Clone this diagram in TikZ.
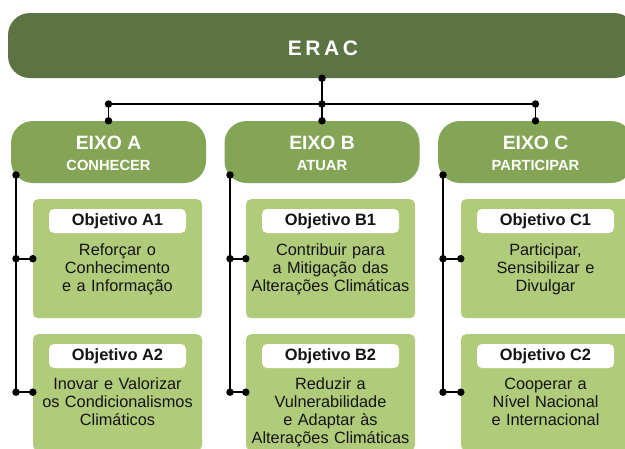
\documentclass[tikz,border=0pt]{standalone}
\usepackage{fontspec}
\setmainfont{Liberation Sans}
\definecolor{ercol}{RGB}{92,115,68}
\definecolor{eixocol}{RGB}{131,165,85}
\definecolor{objcol}{RGB}{176,203,122}
\definecolor{txt}{RGB}{20,20,20}
\begin{document}
\begin{tikzpicture}[x=1pt,y=-1pt,
  conn/.style={line width=1.9pt, black},
  dot/.style={circle, fill=black, inner sep=0pt, minimum size=7.5pt},
  eracbox/.style={fill=ercol, rounded corners=22pt, minimum width=628pt, minimum height=65pt, inner sep=0pt},
  eixo/.style={fill=eixocol, rounded corners=22pt, minimum width=195pt, minimum height=62pt, inner sep=0pt},
  eixotitle/.style={anchor=base, inner sep=0pt, text=white, font=\fontsize{19.3}{22}\bfseries\selectfont},
  eixosub/.style={anchor=base, inner sep=0pt, text=white, font=\fontsize{14.7}{17}\bfseries\selectfont},
  obj/.style={fill=objcol, rounded corners=5pt, minimum width=169pt, inner sep=0pt, anchor=north},
  pill/.style={fill=white, rounded corners=5pt, minimum width=137pt, minimum height=24pt, inner sep=0pt, text=txt, font=\fontsize{16.4}{18}\bfseries\selectfont},
  body/.style={text width=169pt, align=center, inner sep=0pt, anchor=base, text=txt, font=\fontsize{16.3}{18}\selectfont},
]
\useasboundingbox (0,0) rectangle (625,448);
\clip (0,0) rectangle (625,448);

% top bar
\node[eracbox] (erac) at (322,45.5) {};
\node[anchor=base, inner sep=0pt, text=white, font=\fontsize{21}{24}\bfseries\selectfont] (eractxt) at (323,55) {E\kern3.5pt R\kern3.5pt A\kern3.5pt C};

% axes
\node[eixo] (eA) at (108.5,152) {};
\node[eixo] (eB) at (322,152) {};
\node[eixo] (eC) at (535.5,152) {};
\node[eixotitle] (eAt) at (108.5,149) {EIXO A};
\node[eixosub] (eAs) at (108.5,170) {CONHECER};
\node[eixotitle] (eBt) at (322,149) {EIXO B};
\node[eixosub] (eBs) at (322,170) {ATUAR};
\node[eixotitle] (eCt) at (535.5,149) {EIXO C};
\node[eixosub] (eCs) at (535.5,170) {PARTICIPAR};

% objective boxes
\node[obj, minimum height=119pt] (oA1) at (117.5,199) {};
\node[obj, minimum height=116pt] (oA2) at (117.5,334) {};
\node[obj, minimum height=119pt] (oB1) at (330.5,199) {};
\node[obj, minimum height=116pt] (oB2) at (330.5,334) {};
\node[obj, minimum height=119pt] (oC1) at (545.5,199) {};
\node[obj, minimum height=116pt] (oC2) at (545.5,334) {};

% labels
\node[pill] (pA1) at (117.5,221) {Objetivo A1};
\node[pill] (pA2) at (117.5,356) {Objetivo A2};
\node[pill] (pB1) at (330.5,221) {Objetivo B1};
\node[pill] (pB2) at (330.5,356) {Objetivo B2};
\node[pill] (pC1) at (545.5,221) {Objetivo C1};
\node[pill] (pC2) at (545.5,356) {Objetivo C2};

% body texts
\node[body] (tA1) at (117.5,255) {Reforçar o\\Conhecimento\\e a Informação};
\node[body] (tA2) at (117.5,389) {Inovar e Valorizar\\os Condicionalismos\\Climáticos};
\node[body] (tB1) at (330.5,255) {Contribuir para\\a Mitigação das\\Alterações Climáticas};
\node[body] (tB2) at (330.5,389) {Reduzir a\\Vulnerabilidade\\e Adaptar às\\Alterações Climáticas};
\node[body] (tC1) at (545.5,255) {Participar,\\Sensibilizar e\\Divulgar};
\node[body] (tC2) at (545.5,389) {Cooperar a\\Nível Nacional\\e Internacional};

% top connectors
\coordinate (junc) at (322,104);
\coordinate (jA) at (eA.north |- junc);
\coordinate (jC) at (eC.north |- junc);
\draw[conn] (erac.south) -- (eB.north);
\draw[conn] (eA.north) -- (jA) -- (jC) -- (eC.north);
\foreach \p in {erac.south, junc, eB.north, eA.north, jA, jC, eC.north}
  \node[dot] at (\p) {};

% side connectors
\foreach \c/\x in {A/16, B/230, C/443} {
  \coordinate (top\c) at (\x,175);
  \coordinate (j\c1) at (top\c |- o\c1.west);
  \coordinate (j\c2) at (top\c |- o\c2.west);
  \draw[conn] (top\c) -- (j\c2) -- (o\c2.west);
  \draw[conn] (j\c1) -- (o\c1.west);
  \foreach \p in {top\c, j\c1, j\c2, o\c1.west, o\c2.west}
    \node[dot] at (\p) {};
}
\end{tikzpicture}
\end{document}
